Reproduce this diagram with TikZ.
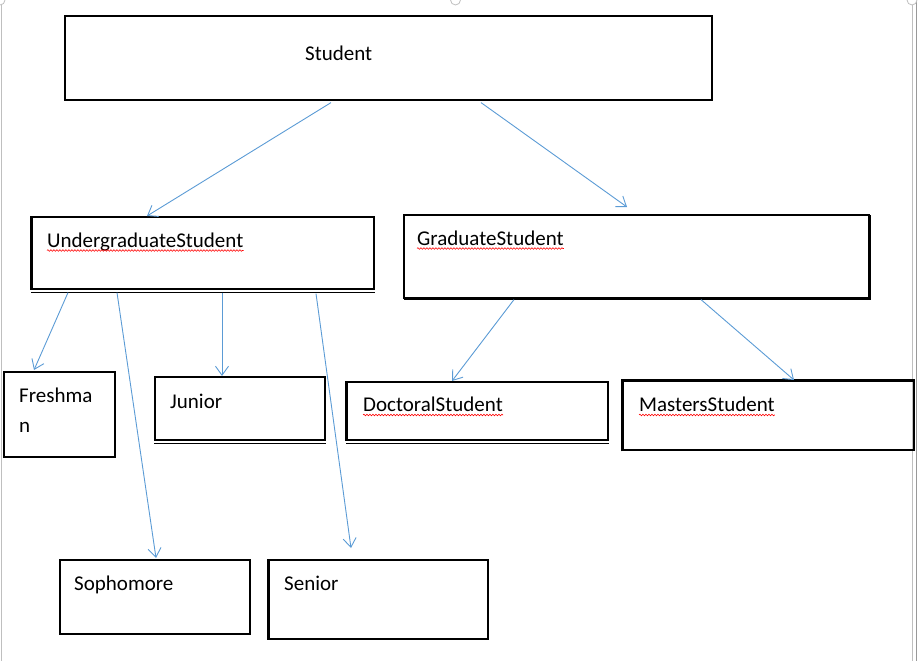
\documentclass[tikz,border=0pt]{standalone}
\usepackage{fontspec}
\setmainfont{Carlito}
\usetikzlibrary{arrows.meta,decorations.pathmorphing}
\definecolor{arrowblue}{HTML}{5B9BD5}
\begin{document}
\begin{tikzpicture}[x=1pt,y=-1pt,
  box/.style={draw=black,line width=1.6pt,rectangle,inner sep=0pt,anchor=north west},
  lbl/.style={inner sep=0pt,anchor=base west,font=\fontsize{21}{25}\selectfont},
  conn/.style={draw=arrowblue,line width=0.9pt,-{Straight Barb[length=9pt,width=13pt,line width=0.9pt]}},
  spell/.style={draw=red,line width=0.6pt,decorate,decoration={snake,amplitude=0.8pt,segment length=3pt}},
  extra/.style={draw=black,line width=1.2pt},
  thick side/.style={draw=black,line width=1.4pt},
  frame/.style={draw=black!25,line width=0.8pt}]
\useasboundingbox (0,0) rectangle (920,661);
% frame of the canvas
\draw[frame] (1,0) -- (1,661);
\draw[frame] (912.5,0) -- (912.5,661);
\draw[draw=black!40,line width=1pt] (916.5,0) -- (916.5,661);
\draw[frame,fill=white] (0,0) circle (5pt);
\draw[frame,fill=white] (455.5,0) circle (5pt);
\draw[frame,fill=white] (912,0) circle (5pt);
% boxes
\node[box,minimum width=647pt,minimum height=84pt] (student) at (64,15) {};
\node[box,minimum width=342pt,minimum height=72pt] (ug) at (31,216) {};
\node[box,minimum width=465pt,minimum height=83pt] (grad) at (403,214) {};
\node[box,minimum width=111pt,minimum height=85pt] (fr) at (3,371) {};
\node[box,minimum width=170pt,minimum height=63pt] (ju) at (154,376) {};
\node[box,minimum width=261pt,minimum height=58pt] (doc) at (346,381) {};
\node[box,minimum width=291pt,minimum height=69pt] (ms) at (622,380) {};
\node[box,minimum width=190pt,minimum height=74pt] (so) at (59,559) {};
\node[box,minimum width=219pt,minimum height=79pt] (se) at (268,559) {};
% extra border lines (double bottoms)
\draw[extra] ([yshift=-2.6pt]ug.south west) -- ([yshift=-2.6pt]ug.south east);
\draw[extra] ([yshift=-2.6pt]ju.south west) -- ([yshift=-2.6pt]ju.south east);
\draw[extra] ([yshift=-2.6pt]doc.south west) -- ([yshift=-2.6pt]doc.south east);
% thickened sides
\draw[thick side] ([xshift=0.7pt,yshift=-1pt]grad.north east) -- ([xshift=0.7pt,yshift=-0.7pt]grad.south east) -- ([xshift=1pt,yshift=-0.7pt]grad.south west);
\draw[thick side] ([xshift=-0.7pt,yshift=-0.7pt]ms.south west) -- ([xshift=-0.7pt,yshift=0.7pt]ms.north west) -- ([yshift=0.7pt]ms.north east);
\draw[thick side] ([xshift=-0.7pt]se.south west) -- ([xshift=-0.7pt]se.north west);
\draw[thick side] ([xshift=-0.7pt]ug.south west) -- ([xshift=-0.7pt]ug.north west);
\draw[thick side] ([xshift=-0.7pt]doc.south west) -- ([xshift=-0.7pt]doc.north west);
% labels
\node[lbl] (studentl) at (305,60.5) {Student};
\node[lbl] (ugl) at (47,247) {UndergraduateStudent};
\node[lbl] (gradl) at (417,245) {GraduateStudent};
\node[lbl] (frl1) at (19,402.5) {Freshma};
\node[lbl] (frl2) at (19,432.5) {n};
\node[lbl] (jul) at (170,408.5) {Junior};
\node[lbl] (docl) at (363,411.5) {DoctoralStudent};
\node[lbl] (msl) at (639,411.5) {MastersStudent};
\node[lbl] (sol) at (74,590) {Sophomore};
\node[lbl] (sel) at (284,590) {Senior};
% spelling squiggles
\draw[spell] ([yshift=-3.5pt]ugl.base west) -- ([yshift=-3.5pt]ugl.base east);
\draw[spell] ([yshift=-3.5pt]gradl.base west) -- ([yshift=-3.5pt]gradl.base east);
\draw[spell] ([yshift=-3.5pt]docl.base west) -- ([yshift=-3.5pt]docl.base east);
\draw[spell] ([yshift=-3.5pt]msl.base west) -- ([yshift=-3.5pt]msl.base east);
% connectors
\draw[conn] ([xshift=267pt,yshift=-2pt]student.south west) -- ([xshift=116pt]ug.north west);
\draw[conn] ([xshift=417pt,yshift=-2pt]student.south west) -- ([xshift=224pt,yshift=7pt]grad.north west);
\draw[conn] ([xshift=37pt,yshift=-3pt]ug.south west) -- ([xshift=31pt,yshift=1pt]fr.north west);
\draw[conn] ([xshift=86pt,yshift=-3pt]ug.south west) -- ([xshift=97pt,yshift=1pt]so.north west);
\draw[conn] ([xshift=191pt,yshift=-3pt]ug.south west) -- ([xshift=68pt]ju.north west);
\draw[conn] ([xshift=285pt,yshift=-4pt]ug.south west) -- ([xshift=83pt,yshift=11pt]se.north west);
\draw[conn] ([xshift=111pt,yshift=-1pt]grad.south west) -- ([xshift=106pt]doc.north west);
\draw[conn] ([xshift=298pt,yshift=-1pt]grad.south west) -- ([xshift=172pt]ms.north west);
\end{tikzpicture}
\end{document}
